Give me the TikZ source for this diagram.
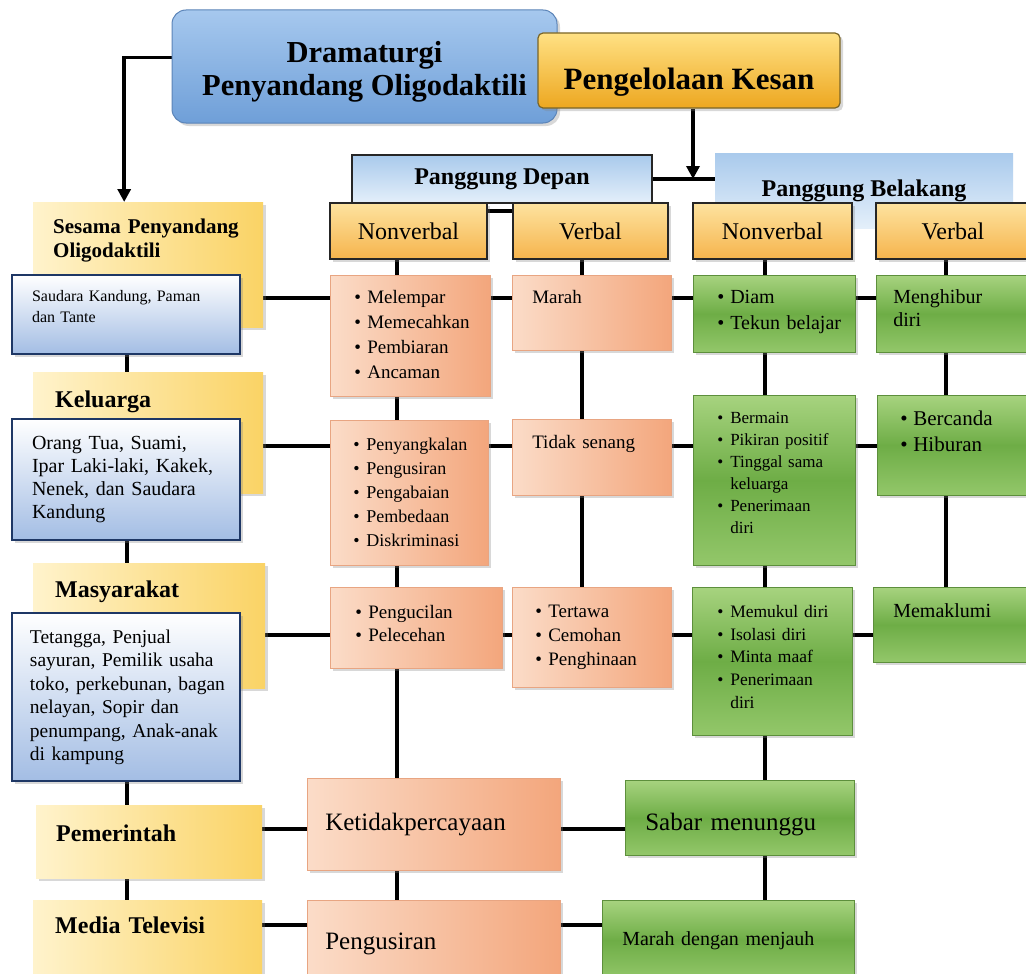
\documentclass[tikz,border=0pt]{standalone}
\usepackage{fontspec}
\setmainfont{Liberation Serif}
\usetikzlibrary{arrows.meta,shadows,backgrounds}
\setlength\parindent{0pt}

\definecolor{dramtop}{HTML}{A6C8EE}
\definecolor{drambot}{HTML}{6F9FD8}
\definecolor{dramline}{HTML}{5B84B8}
\definecolor{goldtop}{HTML}{FFE184}
\definecolor{goldbot}{HTML}{EDA720}
\definecolor{goldline}{HTML}{7A6528}
\definecolor{stagetop}{HTML}{A9CAEC}
\definecolor{stagebot}{HTML}{E4EFFA}
\definecolor{headtop}{HTML}{FDE3A0}
\definecolor{headbot}{HTML}{F6B44C}
\definecolor{yelA}{HTML}{FFF3CC}
\definecolor{yelB}{HTML}{FAD365}
\definecolor{bluebot}{HTML}{A3BDE4}
\definecolor{blueline}{HTML}{1E3765}
\definecolor{pinkA}{HTML}{FBDCC8}
\definecolor{pinkB}{HTML}{F3A67C}
\definecolor{pinkline}{HTML}{E8A582}
\definecolor{greentop}{HTML}{A7D37F}
\definecolor{greenmid}{HTML}{6EAD46}
\definecolor{greenbot}{HTML}{93C76A}
\definecolor{greenline}{HTML}{5D8F3C}

\newcommand\fs[2]{\fontsize{#1}{#2}\selectfont}
\newcommand\bl[1]{\makebox[13pt][l]{\textbullet}#1}
\newcommand\cn[1]{\hspace*{13pt}#1}
\newcommand\lines[1]{\begin{tabular}[t]{@{}l@{}}#1\end{tabular}}

\tikzset{
  link/.style={line width=3.5pt, black},
  arrowlink/.style={link, -{Triangle[length=13pt,width=13pt]}},
  shade/.style={drop shadow={opacity=0.3, shadow xshift=3pt, shadow yshift=-3pt}},
  cell/.style={anchor=north west, inner ysep=0pt, align=left},
  titlebox/.style={rounded corners=14pt, top color=dramtop, bottom color=drambot,
    draw=dramline, line width=1pt, inner sep=0pt, shade},
  kesanbox/.style={rounded corners=5pt, top color=goldtop, bottom color=goldbot,
    draw=goldline, line width=1.2pt, inner sep=0pt, shade},
  stagebox/.style={top color=stagetop, bottom color=stagebot, inner sep=0pt,
    font=\bfseries\fs{24}{28}},
  headbox/.style={top color=headtop, bottom color=headbot, draw=black!85,
    line width=1.5pt, minimum height=56pt, inner sep=0pt, font=\fs{24}{28}, shade},
  yelbox/.style={cell, left color=yelA, right color=yelB, shade},
  bluebox/.style={cell, top color=white, bottom color=bluebot, draw=blueline,
    line width=2pt, shade},
  pinkbox/.style={cell, left color=pinkA, right color=pinkB, draw=pinkline,
    line width=0.6pt, shade},
  greenbox/.style={cell, top color=greentop, bottom color=greenbot, middle color=greenmid,
    draw=greenline, line width=0.6pt, shade}
}

\begin{document}
\begin{tikzpicture}[x=1pt, y=-1pt]
\useasboundingbox (0,0) rectangle (1026,974);

\node[titlebox, minimum width=385pt, minimum height=113pt, font=\bfseries\fs{30.5}{33}, text height=34pt]
  (dram) at (364.5,66.5) {\begin{tabular}[t]{@{}c@{}}Dramaturgi\\Penyandang Oligodaktili\end{tabular}};
\node[kesanbox, minimum width=302pt, minimum height=75pt, font=\bfseries\fs{31}{36},
  text height=46pt, text depth=7pt] (kesan) at (689,70.5) {Pengelolaan Kesan};

\node[stagebox, draw=black!85, line width=1.5pt, minimum width=300pt, minimum height=48pt]
  (pd) at (502,179) {Panggung Depan};
\node[stagebox, minimum width=298pt, minimum height=75pt] (pb) at (864,190.5) {Panggung Belakang};

\node[headbox, minimum width=157pt] (nv1) at (408.5,231) {Nonverbal};
\node[headbox, minimum width=155pt] (v1) at (590.5,231) {Verbal};
\node[headbox, minimum width=159pt] (nv2) at (772.5,231) {Nonverbal};
\node[headbox, minimum width=154pt] (v2) at (953,231) {Verbal};

\node[yelbox, inner xsep=20pt, text width=190pt, text height=31pt, text depth=94pt,
  font=\bfseries\fs{21}{24}] (sesama) at (33,202) {\lines{Sesama Penyandang\\Oligodaktili}};
\node[yelbox, inner xsep=22pt, text width=186pt, text height=35pt, text depth=86pt,
  font=\bfseries\fs{24}{28}] (keluarga) at (33,372) {Keluarga};
\node[yelbox, inner xsep=22pt, text width=188pt, text height=34pt, text depth=91pt,
  font=\bfseries\fs{24}{28}] (masyarakat) at (33,563) {Masyarakat};
\node[yelbox, inner xsep=20pt, text width=186pt, text height=36pt, text depth=37pt,
  font=\bfseries\fs{24}{28}] (pemerintah) at (36,805) {Pemerintah};
\node[yelbox, inner xsep=22pt, text width=185pt, text height=33pt, text depth=47pt,
  font=\bfseries\fs{24}{28}] (media) at (33,900) {Media Televisi};

\node[bluebox, inner xsep=20pt, text width=188pt, text height=26pt, text depth=53pt,
  font=\fs{16}{21}] (saudara) at (11,274) {\lines{Saudara Kandung, Paman\\dan Tante}};
\node[bluebox, inner xsep=20pt, text width=188pt, text height=30pt, text depth=91pt,
  font=\fs{20}{23.3}] (ortu) at (11,418)
  {\lines{Orang Tua, Suami,\\Ipar Laki-laki, Kakek,\\Nenek, dan Saudara\\Kandung}};
\node[bluebox, inner xsep=18pt, text width=192pt, text height=30pt, text depth=138pt,
  font=\fs{19.5}{23.5}] (tetangga) at (11,612)
  {\lines{Tetangga, Penjual\\sayuran, Pemilik usaha\\toko, perkebunan, bagan\\nelayan, Sopir dan\\penumpang, Anak-anak\\di kampung}};

\node[pinkbox, inner xsep=24pt, text width=112pt, text height=28pt, text depth=93pt,
  font=\fs{19}{25}] (lempar) at (330,275)
  {\lines{\bl{Melempar}\\\bl{Memecahkan}\\\bl{Pembiaran}\\\bl{Ancaman}}};
\node[pinkbox, inner xsep=20pt, text width=119pt, text height=28pt, text depth=47pt,
  font=\fs{19}{24}] (marah) at (512,275) {Marah};
\node[pinkbox, inner xsep=23pt, text width=112pt, text height=30pt, text depth=115pt,
  font=\fs{18}{24}] (sangkal) at (330,420)
  {\lines{\bl{Penyangkalan}\\\bl{Pengusiran}\\\bl{Pengabaian}\\\bl{Pembedaan}\\\bl{Diskriminasi}}};
\node[pinkbox, inner xsep=20pt, text width=119pt, text height=29pt, text depth=47pt,
  font=\fs{19}{24}] (senang) at (512,419) {Tidak senang};
\node[pinkbox, inner xsep=25pt, text width=122pt, text height=31pt, text depth=50pt,
  font=\fs{19}{23}] (kucil) at (330,587) {\lines{\bl{Pengucilan}\\\bl{Pelecehan}}};
\node[pinkbox, inner xsep=23pt, text width=113pt, text height=30pt, text depth=70pt,
  font=\fs{19}{24}] (tawa) at (512,587) {\lines{\bl{Tertawa}\\\bl{Cemohan}\\\bl{Penghinaan}}};
\node[pinkbox, inner xsep=18pt, text width=217pt, text height=52pt, text depth=40pt,
  font=\fs{25}{30}] (percaya) at (307,778) {Ketidakpercayaan};
\node[pinkbox, inner xsep=18pt, text width=217pt, text height=49pt, text depth=31pt,
  font=\fs{25}{30}] (usir) at (307,900) {Pengusiran};

\node[greenbox, inner xsep=24pt, text width=114pt, text height=28pt, text depth=49pt,
  font=\fs{20}{26}] (diam) at (693,275) {\lines{\bl{Diam}\\\bl{Tekun belajar}}};
\node[greenbox, inner xsep=17pt, text width=120pt, text height=28pt, text depth=49pt,
  font=\fs{20}{23}] (hibur) at (876,275) {\lines{Menghibur\\diri}};
\node[greenbox, inner xsep=24pt, text width=114pt, text height=28pt, text depth=142pt,
  font=\fs{17}{22}] (main) at (693,395)
  {\lines{\bl{Bermain}\\\bl{Pikiran positif}\\\bl{Tinggal sama}\\\cn{keluarga}\\\bl{Penerimaan}\\\cn{diri}}};
\node[greenbox, inner xsep=23pt, text width=107pt, text height=30pt, text depth=70pt,
  font=\fs{21}{26}] (canda) at (877,395) {\lines{\bl{Bercanda}\\\bl{Hiburan}}};
\node[greenbox, inner xsep=25pt, text width=110pt, text height=30pt, text depth=118pt,
  font=\fs{17.5}{22.7}] (pukul) at (692,587)
  {\lines{\bl{Memukul diri}\\\bl{Isolasi diri}\\\bl{Minta maaf}\\\bl{Penerimaan}\\\cn{diri}}};
\node[greenbox, inner xsep=20pt, text width=117pt, text height=30pt, text depth=45pt,
  font=\fs{20}{24}] (maklum) at (873,587) {Memaklumi};
\node[greenbox, inner xsep=20pt, text width=189pt, text height=50pt, text depth=25pt,
  font=\fs{25}{30}] (sabar) at (625,780) {Sabar menunggu};
\node[greenbox, inner xsep=20pt, text width=212pt, text height=45pt, text depth=35pt,
  font=\fs{20}{24}] (jauh) at (602,900) {Marah dengan menjauh};

\begin{scope}[on background layer]
  \fill[white] (0,0) rectangle (1026,974);
  \coordinate (trunk) at (127,0);
  \coordinate (c1) at (397,0);
  \coordinate (c2) at (582,0);
  \coordinate (c3) at (765,0);
  \coordinate (c4) at (946,0);
  \coordinate (r1) at (0,298);
  \coordinate (r2) at (0,446);
  \coordinate (r3) at (0,635);
  \coordinate (r4) at (0,829);
  \coordinate (r5) at (0,925);

  \draw[arrowlink] ([yshift=9pt]dram.west) -| ([xshift=-24pt]sesama.north);
  \draw[arrowlink] ([xshift=4pt]kesan.south) -- ([xshift=4pt]kesan.south |- pd.east);
  \draw[link] (pd.east) -- (pd.east -| pb.west);
  \draw[link] ([yshift=20pt]nv1.east) -- ([yshift=20pt]v1.west);

  \draw[link] (saudara.south -| trunk) -- (media.north -| trunk);
  \draw[link] (nv1.south -| c1) -- (usir.north -| c1);
  \draw[link] (v1.south -| c2) -- (tawa.north -| c2);
  \draw[link] (nv2.south -| c3) -- (jauh.north -| c3);
  \draw[link] (v2.south -| c4) -- (maklum.north -| c4);

  \draw[link] (sesama.east |- r1) -- (hibur.west |- r1);
  \draw[link] (keluarga.east |- r2) -- (canda.west |- r2);
  \draw[link] (masyarakat.east |- r3) -- (maklum.west |- r3);
  \draw[link] (pemerintah.east |- r4) -- (sabar.west |- r4);
  \draw[link] (media.east |- r5) -- (jauh.west |- r5);
\end{scope}
\end{tikzpicture}
\end{document}
